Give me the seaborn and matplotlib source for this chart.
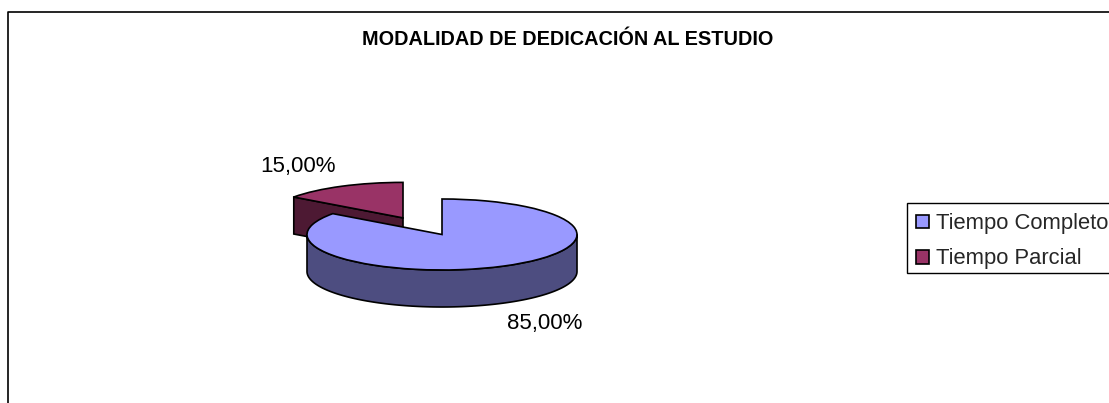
import numpy as np
import seaborn as sns
import matplotlib.pyplot as plt

# Data
categories = ['Tiempo Completo', 'Tiempo Parcial']
values = [85, 15]
title = 'MODALIDAD DE DEDICACIÓN AL ESTUDIO'

# Colours (top faces and the darker sides)
top_colors = sns.color_palette(['#9999FF', '#993366'])
side_colors = sns.color_palette(['#4D4D80', '#4D1933'])

sns.set_style('white')
plt.rcParams['font.family'] = ['Liberation Sans', 'DejaVu Sans']

W, H = 1109, 403
RX, RY = 135, 35.5      # pie ellipse in pixels
DEPTH = 37              # pie height in pixels
SQUASH = RX / RY


def py(y):
    # pixel row to data units, y is stretched so the round pie looks flat
    return (H - y) * SQUASH


fig = plt.figure(figsize=(W / 100, H / 100), dpi=100)
ax = fig.add_axes([0, 0, 1, 1])

# explode is in data units here because the radius is not 1
wedges, _ = ax.pie(values, radius=RX, center=(442, py(234.5)), colors=top_colors,
                   explode=[0, 0.62 * RX], startangle=90, counterclock=False,
                   wedgeprops={'edgecolor': 'black', 'linewidth': 1.2})
ax.set_aspect('auto')
ax.set_xlim(0, W)
ax.set_ylim(0, H * SQUASH)
ax.axis('off')

depth = DEPTH * SQUASH

# Side of the pulled out slice, nudged down a bit to sit like the original
part = wedges[1]
cx, cy = part.center
cx, cy = cx - 1, cy - 3 * SQUASH
part.set_center((cx, cy))
ang = np.deg2rad(max(part.theta1, part.theta2))
ex, ey = cx + RX * np.cos(ang), cy + RX * np.sin(ang)
ax.fill([cx, ex, ex, cx], [cy, ey, ey - depth, cy - depth],
        facecolor=side_colors[1], edgecolor='black', linewidth=1.2, zorder=1)
part.set_zorder(2)

# Side of the main slice
main = wedges[0]
cx, cy = main.center
t = np.linspace(np.pi, 2 * np.pi, 120)
xs = cx + RX * np.cos(t)
ys = cy + RX * np.sin(t)
ax.fill(np.r_[xs, xs[::-1]], np.r_[ys, ys[::-1] - depth],
        facecolor=side_colors[0], edgecolor='black', linewidth=1.2, zorder=3)
main.set_zorder(4)

# Percent labels
labels = [f'{v:.2f}%'.replace('.', ',') for v in values]
ax.text(544.5, py(323), labels[0], fontsize=16, ha='center', va='center', color='black')
ax.text(298.5, py(167), labels[1], fontsize=16, ha='center', va='center', color='black')

ax.text(567.5, py(40), title, fontsize=14.3, fontweight='bold', ha='center', va='center', color='black')

# Chart border, runs off the picture on the right and bottom
ax.plot([8, 8, W + 5], [py(H + 5), py(12), py(12)], color='black', linewidth=1.2,
        clip_on=False, zorder=0)

# Legend box drawn apart so its height can match, the text runs right to the edge
ax.add_patch(plt.Rectangle((907, py(273)), 300, py(203) - py(273), facecolor='white',
                           edgecolor='black', linewidth=1.0, zorder=5))
leg = ax.legend(wedges, categories, loc='upper left', bbox_to_anchor=(907 / W, 1 - 204 / H),
                fontsize=15.8, frameon=False, borderaxespad=0, borderpad=0.42,
                handlelength=0.6, handleheight=0.6, handletextpad=0.3, labelspacing=0.65)
leg.set_zorder(6)

plt.savefig('out.png', dpi=100)
